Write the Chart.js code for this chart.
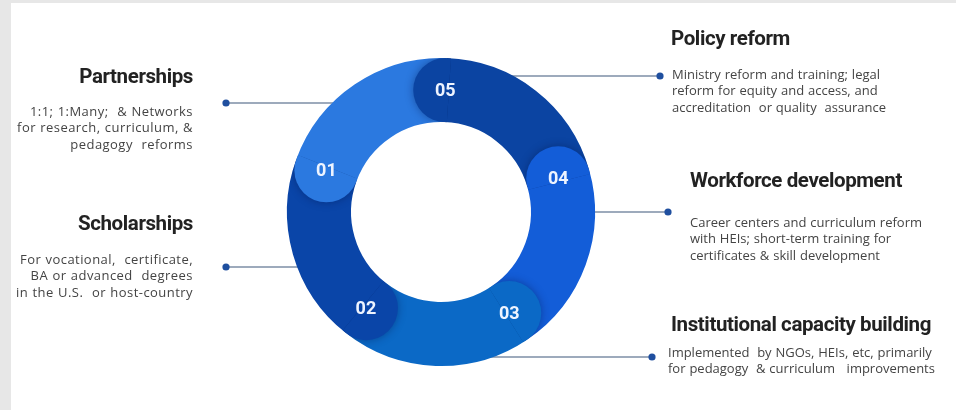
<!DOCTYPE html>
<html>
<head>
    <title>Education programs ring</title>
    <script src="https://cdn.jsdelivr.net/npm/chart.js"></script>
    <style>
        body { margin: 0; background: #e7e7e7; font-family: "Open Sans", sans-serif; }
        #wrap { position: relative; width: 956px; height: 410px; overflow: hidden; }
        #panel { position: absolute; left: 11px; top: 3px; width: 945px; height: 407px; background: #fff; }
        #myChart { position: absolute; left: 0; top: 0; }
        .title { position: absolute; font-family: Roboto, sans-serif; font-weight: 700; font-size: 20.5px;
                 line-height: 24px; color: #222; letter-spacing: -0.4px; white-space: nowrap; }
        .desc { position: absolute; font-size: 13px; line-height: 16.6px; color: #444; white-space: nowrap;
                word-spacing: 0.5px; }
        .desc.left { letter-spacing: 0.45px; }
    </style>
</head>
<body>
<div id="wrap">
    <div id="panel"></div>
    <canvas id="myChart" width="956" height="410"></canvas>
</div>
<script>
    // Data
    const categories = ['01', '02', '03', '04', '05'];
    const titles = ['Partnerships', 'Scholarships', 'Institutional capacity building',
                    'Workforce development', 'Policy reform'];
    const descriptions = [
        ['1:1; 1:Many;  & Networks', 'for research, curriculum, &', 'pedagogy  reforms'],
        ['For vocational,  certificate,', 'BA or advanced  degrees', 'in the U.S.  or host-country'],
        ['Implemented  by NGOs, HEIs, etc, primarily', 'for pedagogy  & curriculum   improvements'],
        ['Career centers and curriculum reform', 'with HEIs; short-term training for', 'certificates & skill development'],
        ['Ministry reform and training; legal', 'reform for equity and access, and', 'accreditation  or quality  assurance']
    ];
    const shares = [20, 20, 20, 20, 20];
    const colors = ['#2b79e0', '#0a45a8', '#0b69c6', '#135dd8', '#0b44a2'];

    // ring goes clockwise 01, 05, 04, 03, 02
    const ringOrder = [0, 4, 3, 2, 1];

    // callout layout (text blocks and connector lines)
    const callouts = [
        { side: 'left',  dotX: 226, lineY: 103, textX: 193, titleY: 76,  descY: 111 },
        { side: 'left',  dotX: 226, lineY: 267, textX: 193, titleY: 223, descY: 259 },
        { side: 'right', dotX: 652, lineY: 357, textX: 668, titleY: 324, descY: 352, titleX: 671 },
        { side: 'right', dotX: 668, lineY: 212, textX: 690, titleY: 180, descY: 222 },
        { side: 'right', dotX: 660, lineY: 76,  textX: 672, titleY: 38,  descY: 74, titleX: 671 }
    ];

    // text blocks as real text
    const wrap = document.getElementById('wrap');
    callouts.forEach((c, i) => {
        const t = document.createElement('div');
        t.className = 'title';
        t.textContent = titles[i];
        t.style.top = (c.titleY - 12) + 'px';
        const d = document.createElement('div');
        d.className = 'desc ' + c.side;
        d.innerHTML = descriptions[i].join('<br>').replace(/  /g, ' &nbsp;');
        d.style.top = (c.descY - 8.3) + 'px';
        if (c.side === 'left') {
            t.style.right = (956 - c.textX) + 'px'; t.style.textAlign = 'right';
            d.style.right = (956 - c.textX) + 'px'; d.style.textAlign = 'right';
        } else {
            t.style.left = (c.titleX || c.textX) + 'px';
            d.style.left = c.textX + 'px';
        }
        wrap.appendChild(t);
        wrap.appendChild(d);
    });

    // connector lines and dots, drawn under the ring
    const connectorPlugin = {
        id: 'connectors',
        beforeDatasetsDraw(chart) {
            const arc = chart.getDatasetMeta(0).data[0];
            const { x: cx, y: cy, outerRadius: R } = arc.getProps(['x', 'y', 'outerRadius'], true);
            const ctx = chart.ctx;
            ctx.save();
            callouts.forEach(c => {
                const dy = c.lineY - cy;
                const dx = Math.sqrt(Math.max(0, R * R - dy * dy)) - 4;
                const x0 = c.side === 'left' ? cx - dx : cx + dx;
                ctx.strokeStyle = '#7d8ea6';
                ctx.lineWidth = 1.3;
                ctx.beginPath();
                ctx.moveTo(x0, c.lineY);
                ctx.lineTo(c.dotX, c.lineY);
                ctx.stroke();
                ctx.fillStyle = '#1f4f9f';
                ctx.beginPath();
                ctx.arc(c.dotX, c.lineY, 3.6, 0, Math.PI * 2);
                ctx.fill();
            });
            ctx.restore();
        }
    };

    // rounded caps at the start of every segment, overlapping the previous one, plus the numbers
    const capPlugin = {
        id: 'caps',
        afterDatasetsDraw(chart) {
            const ctx = chart.ctx;
            const meta = chart.getDatasetMeta(0);
            meta.data.forEach((arc, i) => {
                const p = arc.getProps(['x', 'y', 'startAngle', 'innerRadius', 'outerRadius'], true);
                const mid = (p.innerRadius + p.outerRadius) / 2;
                const r = (p.outerRadius - p.innerRadius) / 2;
                const cx = p.x + mid * Math.cos(p.startAngle);
                const cy = p.y + mid * Math.sin(p.startAngle);
                ctx.save();
                // clip to the previous segment's part of the ring (a hair past the seam)
                const a0 = p.startAngle - 0.7, a1 = p.startAngle + 0.03;
                ctx.beginPath();
                ctx.arc(p.x, p.y, p.outerRadius, a0, a1);
                ctx.arc(p.x, p.y, p.innerRadius, a1, a0, true);
                ctx.closePath();
                ctx.clip();
                ctx.shadowColor = 'rgba(0, 20, 70, 0.4)';
                ctx.shadowBlur = 8;
                ctx.fillStyle = chart.data.datasets[0].backgroundColor[i];
                ctx.beginPath();
                ctx.arc(cx, cy, r, 0, Math.PI * 2);
                ctx.fill();
                ctx.restore();

                ctx.save();
                ctx.fillStyle = '#eef4ff';
                ctx.font = '700 18px Roboto';
                ctx.textAlign = 'center';
                ctx.textBaseline = 'middle';
                ctx.fillText(chart.data.labels[i], cx, cy + 1);
                ctx.restore();
            });
        }
    };

    const ctx = document.getElementById('myChart').getContext('2d');
    const chart = new Chart(ctx, {
        type: 'doughnut',
        data: {
            labels: ringOrder.map(k => categories[k]),
            datasets: [{
                data: ringOrder.map(k => shares[k]),
                backgroundColor: ringOrder.map(k => colors[k]),
                borderWidth: 0
            }]
        },
        options: {
            responsive: false,
            animation: false,
            rotation: 290,
            cutout: '58.4%',
            layout: { padding: { left: 287, right: 361, top: 58, bottom: 44 } },
            plugins: { legend: { display: false }, tooltip: { enabled: false } }
        },
        plugins: [connectorPlugin, capPlugin]
    });
</script>
</body>
</html>
